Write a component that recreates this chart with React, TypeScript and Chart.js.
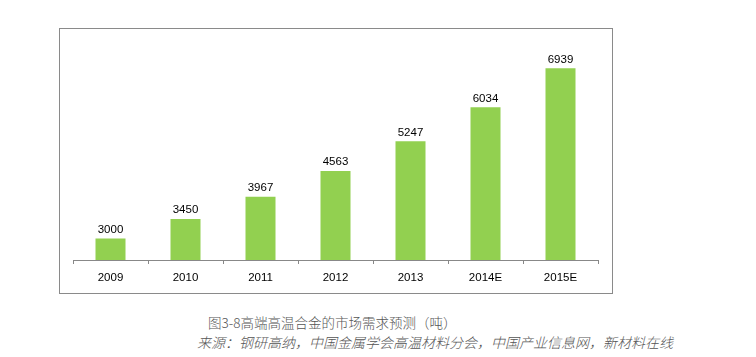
import React, { useEffect, useRef } from "react";
import { Chart, registerables } from "chart.js";

Chart.register(...registerables);

const categories = ["2009", "2010", "2011", "2012", "2013", "2014E", "2015E"];
const demand = [3000, 3450, 3967, 4563, 5247, 6034, 6939];
const title = "图3-8高端高温合金的市场需求预测（吨）";
const source = "来源：钢研高纳，中国金属学会高温材料分会，中国产业信息网，新材料在线";

const labelPlugin = {
  id: "barLabels",
  afterDatasetsDraw(chart: any) {
    const ctx = chart.ctx;
    const meta = chart.getDatasetMeta(0);
    ctx.save();
    ctx.font = "11.5px 'Liberation Sans', Arial, sans-serif";
    ctx.fillStyle = "#000";
    ctx.textAlign = "center";
    ctx.textBaseline = "bottom";
    meta.data.forEach((bar: any, i: number) => {
      ctx.fillText(String(demand[i]), bar.x, bar.y - 3);
    });
    ctx.restore();
  },
};

export default function App() {
  const ref = useRef<HTMLCanvasElement>(null);
  useEffect(() => {
    if (!ref.current) return;
    const chart = new Chart(ref.current, {
      type: "bar",
      data: {
        labels: categories,
        datasets: [
          {
            data: demand,
            backgroundColor: "#92D050",
            categoryPercentage: 1,
            barPercentage: 0.4,
          },
        ],
      },
      options: {
        animation: false,
        responsive: false,
        maintainAspectRatio: false,
        layout: { padding: { left: 13, right: 14, top: 15, bottom: 0 } },
        plugins: { legend: { display: false }, tooltip: { enabled: false } },
        scales: {
          x: {
            grid: {
              drawOnChartArea: false,
              offset: true,
              tickLength: 4,
              color: "#888",
            },
            border: { color: "#888", width: 1 },
            ticks: {
              color: "#000",
              padding: 7,
              font: { family: "'Liberation Sans', Arial, sans-serif", size: 11.5 },
            },
            afterFit: (s: any) => {
              s.height = 33;
            },
          },
          y: {
            display: false,
            min: 2500,
            max: 7500,
          },
        },
      },
      plugins: [labelPlugin],
    });
    return () => chart.destroy();
  }, []);

  return (
    <div style={{ position: "fixed", left: 0, top: 0, width: 756, height: 357, background: "#fff" }}>
      <div
        style={{
          position: "absolute",
          left: 59,
          top: 28,
          width: 552,
          height: 264,
          border: "1px solid #8a8a8a",
        }}
      >
        <canvas ref={ref} width={552} height={264} style={{ display: "block" }} />
      </div>
      <div
        style={{
          position: "absolute",
          left: 208,
          top: 312,
          fontFamily: "'Noto Sans CJK SC', sans-serif",
          fontSize: 13.5,
          fontWeight: 300,
          lineHeight: "20px",
          color: "#555",
          whiteSpace: "nowrap",
        }}
      >
        {title}
      </div>
      <div
        style={{
          position: "absolute",
          left: 197,
          top: 332,
          fontFamily: "'Noto Sans CJK SC', sans-serif",
          fontSize: 14,
          fontWeight: 300,
          lineHeight: "20px",
          fontStyle: "italic",
          color: "#555",
          whiteSpace: "nowrap",
        }}
      >
        {source}
      </div>
    </div>
  );
}
